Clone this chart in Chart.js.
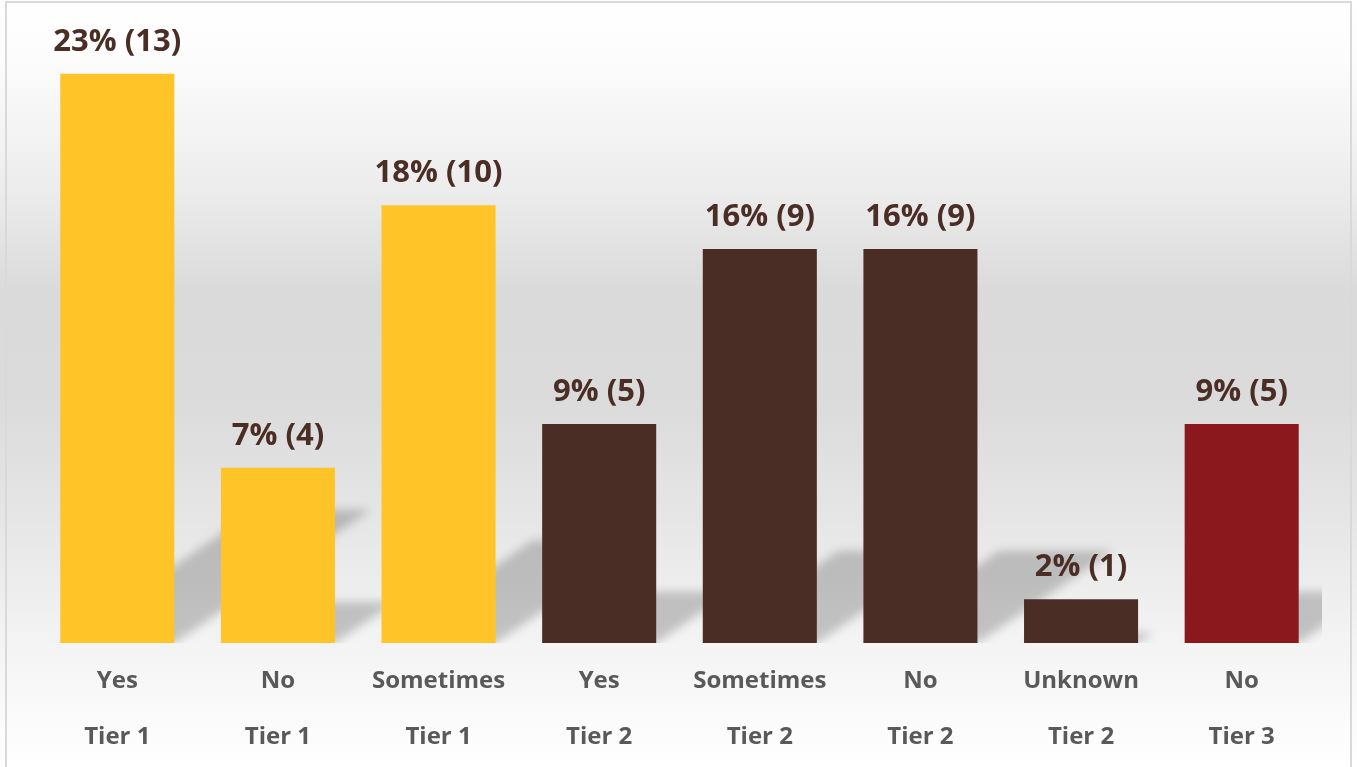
<!DOCTYPE html>
<html>
<head>
<meta charset="utf-8">
<script src="https://cdn.jsdelivr.net/npm/chart.js@4.4.1/dist/chart.umd.min.js"></script>
<style>
  html, body { margin: 0; padding: 0; background: #fff; }
  #wrap { width: 1357px; height: 767px; position: relative; }
</style>
</head>
<body>
<div id="wrap"><canvas id="tierChart"></canvas></div>
<script>
// Responses per answer and tier
const answers = ['Yes', 'No', 'Sometimes', 'Yes', 'Sometimes', 'No', 'Unknown', 'No'];
const tiers = ['Tier 1', 'Tier 1', 'Tier 1', 'Tier 2', 'Tier 2', 'Tier 2', 'Tier 2', 'Tier 3'];
const counts = [13, 4, 10, 5, 9, 9, 1, 5];
const percents = [23, 7, 18, 9, 16, 16, 2, 9];

const YELLOW = '#FFC428';
const BROWN = '#4A2D24';
const RED = '#8B181C';
const barColors = tiers.map(t => t === 'Tier 1' ? YELLOW : (t === 'Tier 2' ? BROWN : RED));

const FONT = '"Open Sans", Lato, sans-serif';

// Page background: soft vertical gradient plus a thin frame
const backdrop = {
    id: 'backdrop',
    beforeDraw(chart) {
        const c = chart.ctx;
        const w = chart.width, h = chart.height;
        const g = c.createLinearGradient(0, 0, 0, h);
        g.addColorStop(0, '#ffffff');
        g.addColorStop(0.08, '#fcfcfc');
        g.addColorStop(0.25, '#ececec');
        g.addColorStop(0.38, '#dadada');
        g.addColorStop(0.52, '#dbdbdb');
        g.addColorStop(0.68, '#e6e6e6');
        g.addColorStop(0.84, '#f4f4f4');
        g.addColorStop(1, '#ffffff');
        c.save();
        c.fillStyle = g;
        c.fillRect(0, 0, w, h);
        c.strokeStyle = '#d9d9d9';
        c.lineWidth = 2;
        c.strokeRect(6, 2, w - 12, h + 20);
        c.restore();
    }
};

// Perspective shadow cast up and to the right behind each bar
const barShadows = {
    id: 'barShadows',
    beforeDatasetsDraw(chart) {
        const c = chart.ctx;
        const area = chart.chartArea;
        const bars = chart.getDatasetMeta(0).data;
        c.save();
        c.beginPath();
        c.rect(area.left, area.top, area.right - area.left, area.bottom - area.top);
        c.clip();
        c.fillStyle = 'rgba(0,0,0,0.2)';
        c.filter = 'blur(5px)';
        bars.forEach(bar => {
            const half = bar.width / 2;
            const hgt = bar.base - bar.y;
            const dx = hgt * 0.345;
            const dy = hgt * 0.234;
            c.beginPath();
            c.moveTo(bar.x - half, bar.base);
            c.lineTo(bar.x + half, bar.base);
            c.lineTo(bar.x + half + dx, bar.base - dy);
            c.lineTo(bar.x - half + dx, bar.base - dy);
            c.closePath();
            c.fill();
        });
        c.restore();
    }
};

// Value labels above bars: "pct% (count)"
const valueLabels = {
    id: 'valueLabels',
    afterDatasetsDraw(chart) {
        const c = chart.ctx;
        const bars = chart.getDatasetMeta(0).data;
        c.save();
        c.font = 'bold 31px ' + FONT;
        c.fillStyle = BROWN;
        c.textAlign = 'center';
        c.textBaseline = 'middle';
        bars.forEach((bar, i) => {
            c.fillText(percents[i] + '% (' + counts[i] + ')', bar.x, bar.y - 32);
        });
        c.restore();
    }
};

const ctx = document.getElementById('tierChart').getContext('2d');
const tierChart = new Chart(ctx, {
    type: 'bar',
    data: {
        labels: answers.map((a, i) => [a, tiers[i]]),
        datasets: [{
            data: counts,
            backgroundColor: barColors,
            borderWidth: 0,
            categoryPercentage: 1,
            barPercentage: 0.71
        }]
    },
    options: {
        responsive: true,
        maintainAspectRatio: false,
        animation: false,
        layout: {
            padding: { top: 30, left: 37, right: 35, bottom: 0 }
        },
        scales: {
            x: {
                grid: { display: false, drawTicks: false },
                border: { display: false },
                ticks: {
                    color: '#595959',
                    padding: 10,
                    maxRotation: 0,
                    autoSkip: false,
                    font: { family: FONT, size: 24, weight: 'bold', lineHeight: '56px' }
                },
                afterFit(scale) { scale.height = 124; }
            },
            y: {
                display: false,
                min: 0,
                max: 14
            }
        },
        plugins: {
            legend: { display: false },
            tooltip: { enabled: false }
        }
    },
    plugins: [backdrop, barShadows, valueLabels]
});
</script>
</body>
</html>
